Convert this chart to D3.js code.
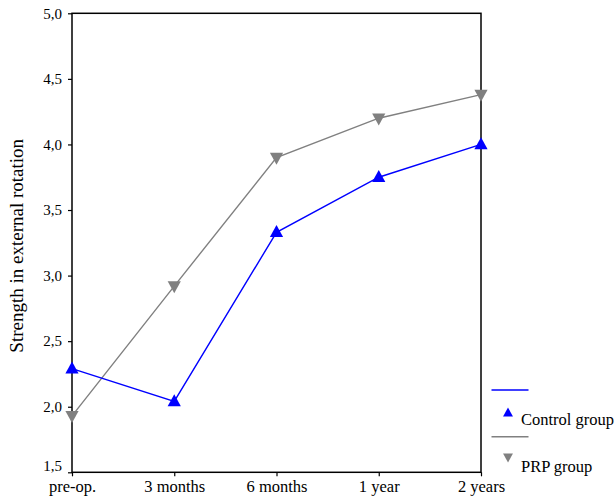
<!DOCTYPE html>
<html>
<head>
<meta charset="utf-8">
<script src="https://cdn.jsdelivr.net/npm/d3@7"></script>
<style>
  html, body { margin: 0; padding: 0; background: #fff; }
  svg { display: block; }
  svg text { font-family: "Liberation Serif", "Times New Roman", Times, Tinos, "DejaVu Serif", serif !important; }
</style>
</head>
<body>
<svg id="chart" width="614" height="498"></svg>
<script>
const categories = ["pre-op.", "3 months", "6 months", "1 year", "2 years"];
const controlValues = [2.29, 2.04, 3.33, 3.75, 4.00];
const prpValues = [1.93, 2.92, 3.90, 4.20, 4.38];
const yTickValues = [1.5, 2.0, 2.5, 3.0, 3.5, 4.0, 4.5, 5.0];
const seriesNames = ["Control group", "PRP group"];
const seriesColors = ["#0000ff", "#808080"];
const yTitle = "Strength in external rotation";

const svg = d3.select("#chart");
const m = { left: 72, right: 481, top: 13.3, bottom: 472.3 };

const x = d3.scalePoint().domain(categories).range([m.left, m.right]).padding(0);
const y = d3.scaleLinear().domain([1.5, 5.0]).range([m.bottom, m.top]);

const fmt = d => d.toFixed(1).replace(".", ",");

// frame
svg.append("rect")
  .attr("x", m.left).attr("y", m.top)
  .attr("width", m.right - m.left).attr("height", m.bottom - m.top)
  .attr("fill", "none").attr("stroke", "#000").attr("stroke-width", 1.5);

// y axis
const yAxis = svg.append("g").attr("transform", `translate(${m.left},0)`)
  .call(d3.axisLeft(y).tickValues(yTickValues).tickFormat(fmt).tickSize(4).tickPadding(6));
yAxis.select(".domain").remove();
yAxis.selectAll("line").attr("stroke", "#000").attr("stroke-width", 1.2);
yAxis.selectAll("text").attr("font-size", 15).attr("fill", "#000")
  .attr("dy", (d, i) => i === 0 ? "-0.1em" : "0.32em");

// x axis
const xAxis = svg.append("g").attr("transform", `translate(0,${m.bottom})`)
  .call(d3.axisBottom(x).tickSize(4).tickPadding(5));
xAxis.select(".domain").remove();
xAxis.selectAll("line").attr("stroke", "#000").attr("stroke-width", 1.2);
xAxis.selectAll("text").attr("font-size", 16.5).attr("fill", "#000").attr("dy", "0.62em");

// y title
svg.append("text")
  .attr("transform", `translate(23,${(m.top + m.bottom) / 2 + 3}) rotate(-90)`)
  .attr("text-anchor", "middle")
  .attr("font-size", 19)
  .attr("fill", "#000")
  .text(yTitle);

const series = [
  { name: seriesNames[0], values: controlValues, color: seriesColors[0], up: true },
  { name: seriesNames[1], values: prpValues, color: seriesColors[1], up: false }
];

const line = d3.line().x((d, i) => x(categories[i])).y(d => y(d));
const tri = (s, up) => up
  ? `M0,${-s * 0.6}L${s * 0.55},${s * 0.4}L${-s * 0.55},${s * 0.4}Z`
  : `M0,${s * 0.6}L${s * 0.55},${-s * 0.4}L${-s * 0.55},${-s * 0.4}Z`;

[series[1], series[0]].forEach(s => {
  svg.append("path").datum(s.values)
    .attr("d", line).attr("fill", "none")
    .attr("stroke", s.color).attr("stroke-width", 1.4);
  svg.selectAll(null).data(s.values).enter().append("path")
    .attr("transform", (d, i) => `translate(${x(categories[i])},${y(d)})`)
    .attr("d", tri(12, s.up))
    .attr("fill", s.color);
});

// legend
const lg = svg.append("g");
series.forEach((s, i) => {
  const y0 = 390 + i * 46.7;
  lg.append("line").attr("x1", 491.5).attr("x2", 528.5).attr("y1", y0).attr("y2", y0)
    .attr("stroke", s.color).attr("stroke-width", 1.4);
  lg.append("path").attr("transform", `translate(508,${y0 + (s.up ? 23 : 20.5)})`)
    .attr("d", tri(9, s.up)).attr("fill", s.color);
  lg.append("text").attr("x", 521).attr("y", y0 + 35).attr("font-size", 16.5)
    .attr("fill", "#000").text(s.name);
});
</script>
</body>
</html>
